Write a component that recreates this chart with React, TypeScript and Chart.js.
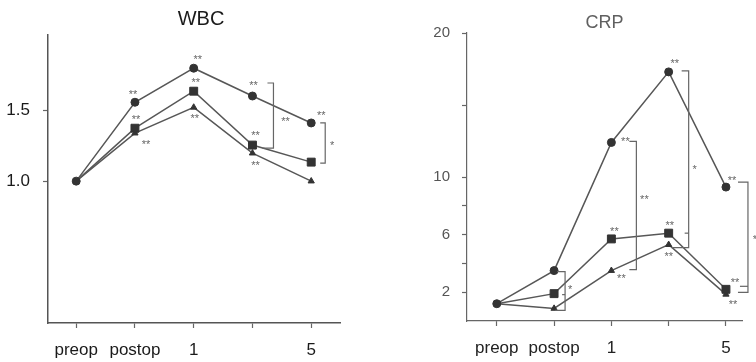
import React, { useEffect, useRef } from "react";
import { Chart, registerables } from "chart.js";

Chart.register(...registerables);

// ---- data ----
const days = ["preop", "postop", "1", "3", "5"];
const shownDayLabels = ["preop", "postop", "1", "", "5"];

const wbcCircle = [1.0, 1.556, 1.796, 1.6, 1.41];
const wbcSquare = [1.0, 1.373, 1.634, 1.254, 1.134];
const wbcTriangle = [1.0, 1.338, 1.52, 1.197, 1.0];
const wbcTicks = [1.0, 1.5];

const crpCircle = [1.2, 3.5, 12.4, 17.3, 9.3];
const crpSquare = [1.2, 1.9, 5.7, 6.1, 2.2];
const crpTriangle = [1.2, 0.87, 3.5, 5.3, 1.85];
const crpTicks = [2, 4, 6, 8, 10, 15, 20];
const crpLabelled = [2, 6, 10, 20];

// ---- significance markers (series index, day index, text) ----
const wbcStars = [
  [0, 1, "**"], [0, 2, "**"], [0, 3, "**"], [0, 4, "**"],
  [1, 1, "**"], [1, 2, "**"], [1, 3, "**"],
  [2, 1, "**"], [2, 2, "**"], [2, 3, "**"],
];
const crpStars = [
  [0, 2, "**"], [0, 3, "**"], [0, 4, "**"],
  [1, 2, "**"], [1, 3, "**"], [1, 4, "**"],
  [2, 2, "**"], [2, 3, "**"], [2, 4, "**"],
];

const FONT = "'Liberation Sans', Arial, Helvetica, sans-serif";
const LINE = "#575757";
const MARK = "#333333";

const wbcStarOffsets: Record<string, [number, number]> = {
  "0-1": [-2, -10], "0-2": [4, -11], "0-3": [1, -13], "0-4": [10, -10],
  "1-1": [1, -11], "1-2": [2, -11], "1-3": [3, -12],
  "2-1": [11, 9], "2-2": [1, 9], "2-3": [3, 10],
};
const crpStarOffsets: Record<string, [number, number]> = {
  "0-2": [14, -3], "0-3": [6, -11], "0-4": [6, -9],
  "1-2": [3, -10], "1-3": [1, -10], "1-4": [9, -9],
  "2-2": [10, 5], "2-3": [0, 9], "2-4": [7, 8],
};

type Bracket = {
  i: number; top: number; bot: number; mid?: number;
  dyTop: number; dyBot: number; dyMid?: number; dx: number;
  lt: number; lb: number; lm?: number; label: string; ldx: number; ldy: number;
};

const wbcBrackets: Bracket[] = [
  { i: 3, top: 0, bot: 1, dyTop: -13, dyBot: 3, dx: 21, lt: 6, lb: 11, label: "**", ldx: 12, ldy: 3 },
  { i: 4, top: 0, bot: 1, dyTop: 0, dyBot: 1, dx: 14, lt: 5, lb: 5, label: "*", ldx: 7, ldy: 0 },
];
const crpBrackets: Bracket[] = [
  { i: 1, top: 0, bot: 2, mid: 1, dyTop: 1, dyBot: 2, dyMid: 1, dx: 11, lt: 8, lb: 10, lm: 3, label: "*", ldx: 5, ldy: -4 },
  { i: 2, top: 0, bot: 2, dyTop: -1, dyBot: -1, dx: 25, lt: 7, lb: 7, label: "**", ldx: 8, ldy: -9 },
  { i: 3, top: 0, bot: 2, mid: 1, dyTop: -1, dyBot: 3, dyMid: 0, dx: 20, lt: 7, lb: 17, lm: 4, label: "*", ldx: 6, ldy: 8 },
  { i: 4, top: 0, bot: 2, mid: 1, dyTop: -5, dyBot: -2, dyMid: -3, dx: 22, lt: 10, lb: 10, lm: 8, label: "*", ldx: 7, ldy: 0 },
];

const annotatePlugin = {
  id: "annotate",
  afterDatasetsDraw(chart: any, _args: any, opts: any) {
    const ctx = chart.ctx;
    const pt = (s: number, i: number) => chart.getDatasetMeta(s).data[i];
    ctx.save();
    ctx.fillStyle = "#666";
    ctx.font = `11px ${FONT}`;
    ctx.textAlign = "center";
    ctx.textBaseline = "middle";
    for (const [s, i, t] of opts.stars || []) {
      const p = pt(s as number, i as number);
      const off = opts.starOffsets[`${s}-${i}`] || [0, -10];
      ctx.fillText(t, p.x + off[0], p.y + off[1] + 3);
    }
    ctx.strokeStyle = "#666";
    ctx.lineWidth = 1.2;
    for (const b of (opts.brackets || []) as Bracket[]) {
      const pTop = pt(b.top, b.i);
      const pBot = pt(b.bot, b.i);
      const x = pTop.x + b.dx;
      const yT = pTop.y + b.dyTop;
      const yB = pBot.y + b.dyBot;
      ctx.beginPath();
      ctx.moveTo(x - b.lt, yT);
      ctx.lineTo(x, yT);
      ctx.lineTo(x, yB);
      ctx.lineTo(x - b.lb, yB);
      ctx.stroke();
      if (b.mid !== undefined) {
        const pm = pt(b.mid, b.i);
        const ym = pm.y + (b.dyMid || 0);
        ctx.beginPath();
        ctx.moveTo(x - (b.lm || 4), ym);
        ctx.lineTo(x, ym);
        ctx.stroke();
      }
      ctx.fillText(b.label, x + b.ldx, (yT + yB) / 2 + b.ldy + 3);
    }
    if (opts.title) {
      ctx.fillStyle = opts.titleColor;
      ctx.font = `${opts.titleSize}px ${FONT}`;
      ctx.textAlign = "center";
      ctx.textBaseline = "middle";
      const ca = chart.chartArea;
      ctx.fillText(opts.title, (ca.left + ca.right) / 2 + opts.titleDx, opts.titleY);
    }
    ctx.restore();
  },
};

function makeDatasets(c: number[], s: number[], t: number[]) {
  const base = {
    borderColor: LINE,
    borderWidth: 1.5,
    pointBackgroundColor: MARK,
    pointBorderColor: MARK,
    pointBorderWidth: 1,
    tension: 0,
    clip: false as any,
  };
  // the shared preop point shows as a single circle
  const hidePreop = (r: number) => (ctx: any) => (ctx.dataIndex === 0 ? 0 : r);
  return [
    { ...base, label: "circle", data: days.map((_, i) => ({ x: i, y: c[i] })), pointStyle: "circle", pointRadius: 4 },
    { ...base, label: "square", data: days.map((_, i) => ({ x: i, y: s[i] })), pointStyle: "rect", pointRadius: hidePreop(5.6) },
    { ...base, label: "triangle", data: days.map((_, i) => ({ x: i, y: t[i] })), pointStyle: "triangle", pointRadius: hidePreop(3.6) },
  ];
}

function makeConfig(p: any): any {
  return {
    type: "line",
    data: { datasets: makeDatasets(p.c, p.s, p.t) },
    options: {
      responsive: false,
      animation: false,
      events: [],
      layout: { padding: { left: 0, right: p.padRight, top: p.padTop, bottom: 0 } },
      plugins: {
        legend: { display: false },
        tooltip: { enabled: false },
        title: { display: false },
        annotate: {
          stars: p.stars, starOffsets: p.starOffsets, brackets: p.brackets,
          title: p.title, titleColor: p.titleColor, titleSize: p.titleSize, titleDx: p.titleDx, titleY: p.titleY,
        },
      },
      scales: {
        x: {
          type: "linear",
          min: p.xMin,
          max: p.xMax,
          afterBuildTicks: (sc: any) => { sc.ticks = days.map((_, i) => ({ value: i })); },
          afterFit: (sc: any) => { sc.height = p.xHeight; },
          grid: { drawOnChartArea: false, drawTicks: true, tickLength: 5, color: "#666", tickWidth: 1.2 },
          border: { display: true, color: p.axisColor, width: p.axisWidth },
          ticks: {
            autoSkip: false, maxRotation: 0, padding: p.xPad,
            color: p.xLabelColor, font: { family: FONT, size: 17 },
            callback: (v: any) => shownDayLabels[Math.round(v)] ?? "",
          },
        },
        y: {
          type: "linear",
          min: p.yMin,
          max: p.yMax,
          afterBuildTicks: (sc: any) => { sc.ticks = p.yTicks.map((v: number) => ({ value: v })); },
          afterFit: (sc: any) => { sc.width = p.yWidth; },
          grid: { drawOnChartArea: false, drawTicks: true, tickLength: 5, color: "#666", tickWidth: 1.2 },
          border: { display: true, color: p.axisColor, width: p.axisWidth },
          ticks: {
            padding: p.yPad, color: p.yLabelColor, font: { family: FONT, size: p.yFontSize },
            callback: p.yCallback,
          },
        },
      },
    },
    plugins: [annotatePlugin],
  };
}

function Panel(props: { cfg: any; left: number; width: number }) {
  const ref = useRef<HTMLCanvasElement | null>(null);
  useEffect(() => {
    if (!ref.current) return;
    const chart = new Chart(ref.current, makeConfig(props.cfg));
    return () => chart.destroy();
  }, []);
  return (
    <div style={{ position: "absolute", left: props.left, top: 0, width: props.width, height: 362 }}>
      <canvas ref={ref} width={props.width} height={362} style={{ width: props.width, height: 362, display: "block" }} />
    </div>
  );
}

const wbcCfg = {
  c: wbcCircle, s: wbcSquare, t: wbcTriangle,
  stars: wbcStars, starOffsets: wbcStarOffsets, brackets: wbcBrackets,
  title: "WBC", titleColor: "#1a1a1a", titleSize: 20, titleDx: 7, titleY: 19,
  padRight: 40, padTop: 35, xHeight: 39, yWidth: 48,
  xMin: -0.48, xMax: 4.49, yMin: 0, yMax: 2.03, yTicks: wbcTicks,
  xPad: 12, yPad: 13, yFontSize: 17,
  axisColor: "#555", axisWidth: 1.5,
  xLabelColor: "#1a1a1a", yLabelColor: "#1a1a1a",
  yCallback: (v: any) => Number(v).toFixed(1),
};

const crpCfg = {
  c: crpCircle, s: crpSquare, t: crpTriangle,
  stars: crpStars, starOffsets: crpStarOffsets, brackets: crpBrackets,
  title: "CRP", titleColor: "#606060", titleSize: 18, titleDx: 0, titleY: 23,
  padRight: 14, padTop: 33, xHeight: 41, yWidth: 87,
  xMin: -0.52, xMax: 4.28, yMin: 0, yMax: 20, yTicks: crpTicks,
  xPad: 12, yPad: 12, yFontSize: 15,
  axisColor: "#666", axisWidth: 1.2,
  xLabelColor: "#222", yLabelColor: "#555",
  yCallback: (v: any) => (crpLabelled.includes(Number(v)) ? String(v) : ""),
};

export default function App() {
  return (
    <div style={{ position: "absolute", left: 0, top: 0, width: 756, height: 362, background: "#fff", overflow: "hidden" }}>
      <Panel cfg={wbcCfg} left={0} width={380} />
      <Panel cfg={crpCfg} left={380} width={376} />
    </div>
  );
}
